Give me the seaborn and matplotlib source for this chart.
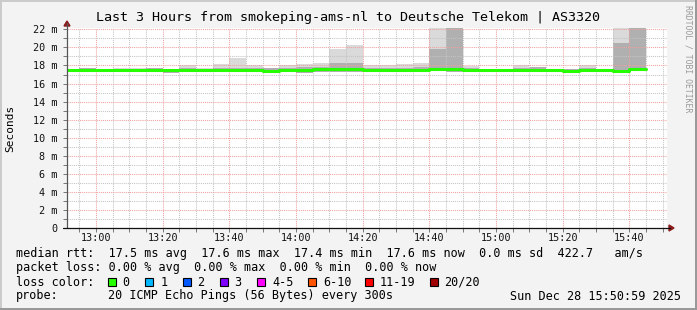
import matplotlib
matplotlib.use("Agg")
import matplotlib.pyplot as plt
import seaborn as sns
import pandas as pd
from matplotlib.patches import Rectangle, Polygon
from matplotlib.lines import Line2D
from matplotlib.ticker import MultipleLocator, FixedLocator, FixedFormatter

# ---------------- data ----------------
bin_start = ["12:50", "12:55", "13:00", "13:05", "13:10", "13:15", "13:20", "13:25",
             "13:30", "13:35", "13:40", "13:45", "13:50", "13:55", "14:00", "14:05",
             "14:10", "14:15", "14:20", "14:25", "14:30", "14:35", "14:40", "14:45",
             "14:50", "14:55", "15:00", "15:05", "15:10", "15:15", "15:20", "15:25",
             "15:30", "15:35", "15:40"]
bin_end = "15:45"
median_ms = [17.52, 17.50, 17.52, 17.52, 17.52, 17.48, 17.52, 17.50, 17.50, 17.50,
             17.45, 17.48, 17.42, 17.50, 17.45, 17.62, 17.58, 17.58, 17.50, 17.50,
             17.52, 17.52, 17.62, 17.60, 17.50, 17.52, 17.52, 17.50, 17.55, 17.50,
             17.42, 17.50, 17.50, 17.42, 17.60]
smoke_min = [17.35, 17.30, 17.40, 17.35, 17.35, 17.30, 17.20, 17.30, 17.35, 17.30,
             17.30, 17.27, 17.20, 17.30, 17.20, 17.30, 17.30, 17.30, 17.30, 17.30,
             17.35, 17.35, 17.35, 17.30, 17.35, 17.40, 17.40, 17.30, 17.35, 17.40,
             17.30, 17.30, 17.40, 17.30, 17.40]
smoke_max = [17.65, 17.70, 17.60, 17.75, 17.75, 17.75, 17.65, 18.05, 17.75, 18.15,
             18.85, 18.00, 17.70, 18.00, 18.15, 18.30, 19.80, 20.25, 18.00, 18.05,
             18.15, 18.30, 22.50, 22.50, 17.90, 17.65, 17.65, 18.00, 17.85, 17.65,
             17.60, 18.00, 17.65, 22.50, 22.50]
smoke_mid = [17.60, 17.70, 17.55, 17.62, 17.62, 17.70, 17.65, 17.72, 17.60, 17.70,
             17.70, 17.68, 17.70, 17.68, 17.78, 17.85, 18.25, 18.30, 17.70, 17.72,
             17.75, 17.78, 19.80, 22.50, 17.70, 17.60, 17.60, 17.70, 17.78, 17.60,
             17.60, 17.70, 17.60, 20.50, 22.50]

y_ticks = [0, 2, 4, 6, 8, 10, 12, 14, 16, 18, 20, 22]
y_tick_labels = ["0", "2 m", "4 m", "6 m", "8 m", "10 m", "12 m", "14 m", "16 m",
                 "18 m", "20 m", "22 m"]
x_tick_labels = ["13:00", "13:20", "13:40", "14:00", "14:20", "14:40", "15:00",
                 "15:20", "15:40"]

title = "Last 3 Hours from smokeping-ams-nl to Deutsche Telekom | AS3320"
legend_rtt = "median rtt:  17.5 ms avg  17.6 ms max  17.4 ms min  17.6 ms now  0.0 ms sd  422.7   am/s"
legend_loss = "packet loss: 0.00 % avg  0.00 % max  0.00 % min  0.00 % now"
loss_labels = ["0", "1", "2", "3", "4-5", "6-10", "11-19", "20/20"]
loss_colors = ["#26ff00", "#00b8ff", "#0059ff", "#7e00ff", "#ff00ff", "#ff5500",
               "#ff0000", "#a00000"]
probe_text = "20 ICMP Echo Pings (56 Bytes) every 300s"
date_text = "Sun Dec 28 15:50:59 2025"


def to_min(s):
    h, m = s.split(":")
    return (int(h) - 12) * 60 + int(m)


# ---------------- style ----------------
sns.set_style("white")
MONO = ["DejaVu Sans Mono"]
plt.rcParams["font.family"] = MONO

W, H = 697, 310
fig = plt.figure(figsize=(W / 100, H / 100), dpi=100)
fig.patch.set_facecolor("#f3f3f3")

PL, PR, PT, PB = 67, 667, 28, 228
ax = fig.add_axes([PL / W, 1 - PB / H, (PR - PL) / W, (PB - PT) / H])
ax.set_facecolor("white")

x0 = to_min("12:51") + 0.3
ax.set_xlim(x0, x0 + 180)
ax.set_ylim(0, 22.15)

# smoke
df = pd.DataFrame({
    "t": [to_min(s) for s in bin_start],
    "median": median_ms,
    "lo": smoke_min,
    "hi": smoke_max,
    "mid": smoke_mid,
})
ax.bar(df["t"], df["hi"] - df["lo"], bottom=df["lo"], width=5, align="edge",
       color="#dadada", linewidth=0, zorder=1)
ax.bar(df["t"], df["mid"] - df["lo"], bottom=df["lo"], width=5, align="edge",
       color="#b0b0b0", linewidth=0, zorder=1.1)

# median line (steps)
line_df = pd.DataFrame({
    "t": list(df["t"]) + [to_min(bin_end)],
    "median": median_ms + [median_ms[-1]],
})
sns.lineplot(data=line_df, x="t", y="median", ax=ax, drawstyle="steps-post",
             color="#26ff00", linewidth=2.2, zorder=3)

# grid
ax.xaxis.set_major_locator(FixedLocator([to_min(s) for s in x_tick_labels]))
ax.xaxis.set_major_formatter(FixedFormatter(x_tick_labels))
ax.xaxis.set_minor_locator(MultipleLocator(5))
ax.yaxis.set_major_locator(FixedLocator(y_ticks))
ax.yaxis.set_major_formatter(FixedFormatter(y_tick_labels))
ax.yaxis.set_minor_locator(MultipleLocator(1))
ax.set_axisbelow(False)
ax.grid(which="minor", color="#c4c4c4", linestyle=(0, (1, 1)), linewidth=0.75)
ax.grid(which="major", color="#f0a0a0", linestyle=(0, (1, 1)), linewidth=0.75)
ax.tick_params(which="both", direction="out", length=3, width=0.7, color="#777777",
               labelsize=7.3, labelcolor="#111111", bottom=True, left=True)
ax.tick_params(axis="y", pad=4)
ax.tick_params(axis="x", pad=0.8)
for sp in ax.spines.values():
    sp.set_visible(False)
ax.set_xlabel("")
ax.set_ylabel("")


def px(x, y):
    return x / W, 1 - y / H


# axes lines and arrows
fig.add_artist(Line2D([px(PL, 0)[0]] * 2, [px(0, PB)[1], px(0, 23)[1]],
                      color="#555555", linewidth=0.9))
fig.add_artist(Line2D([px(63, 0)[0], px(670, 0)[0]], [px(0, PB)[1]] * 2,
                      color="#111111", linewidth=0.9))
fig.add_artist(Polygon([px(64, 26), px(70, 26), px(67, 21)], closed=True,
                       transform=fig.transFigure, color="#8b1a1a"))
fig.add_artist(Polygon([px(669, 225), px(669, 231), px(674, 228)], closed=True,
                       transform=fig.transFigure, color="#8b1a1a"))

# border (3D shade)
fig.add_artist(Rectangle((0, 1 - 2 / H), 1, 2 / H, transform=fig.transFigure,
                         color="#cbcbcb", lw=0))
fig.add_artist(Rectangle((0, 0), 2 / W, 1, transform=fig.transFigure,
                         color="#cbcbcb", lw=0))
fig.add_artist(Rectangle((0, 0), 1, 2 / H, transform=fig.transFigure,
                         color="#999999", lw=0))
fig.add_artist(Rectangle((1 - 2 / W, 0), 2 / W, 1, transform=fig.transFigure,
                         color="#999999", lw=0))

# texts
def T(x, y, s, **kw):
    kw.setdefault("family", MONO)
    kw.setdefault("color", "#000000")
    fig.text(x / W, 1 - y / H, s, **kw)


T(348.5, 18, title, fontsize=9.6, ha="center", va="center")
T(10, 128, "Seconds", fontsize=8.0, rotation=90, ha="center", va="center")
T(688, 5, "RRDTOOL / TOBI OETIKER", fontsize=5.9, rotation=270, ha="center",
  va="top", color="#9a9a9a")

LS = 8.5
T(16, 254, legend_rtt, fontsize=LS, ha="left", va="center")
T(16, 268, legend_loss, fontsize=LS, ha="left", va="center")
T(16, 282, "loss color:", fontsize=LS, ha="left", va="center")
box_x = [108, 145, 183, 220, 257, 308, 365, 430]
lab_x = [122.5, 160.5, 197.5, 234.5, 272, 323, 380, 444.5]
for bx, lx, lab, col in zip(box_x, lab_x, loss_labels, loss_colors):
    fig.add_artist(Rectangle(px(bx, 286), 8 / W, 8 / H, transform=fig.transFigure,
                             facecolor=col, edgecolor="black", lw=0.8))
    T(lx, 282, lab, fontsize=LS, ha="left", va="center")
T(16, 296, "probe:", fontsize=LS, ha="left", va="center")
T(107.5, 296, probe_text, fontsize=LS, ha="left", va="center")
T(681, 296, date_text, fontsize=LS, ha="right", va="center")

fig.savefig("out.png", dpi=100, facecolor=fig.get_facecolor())
